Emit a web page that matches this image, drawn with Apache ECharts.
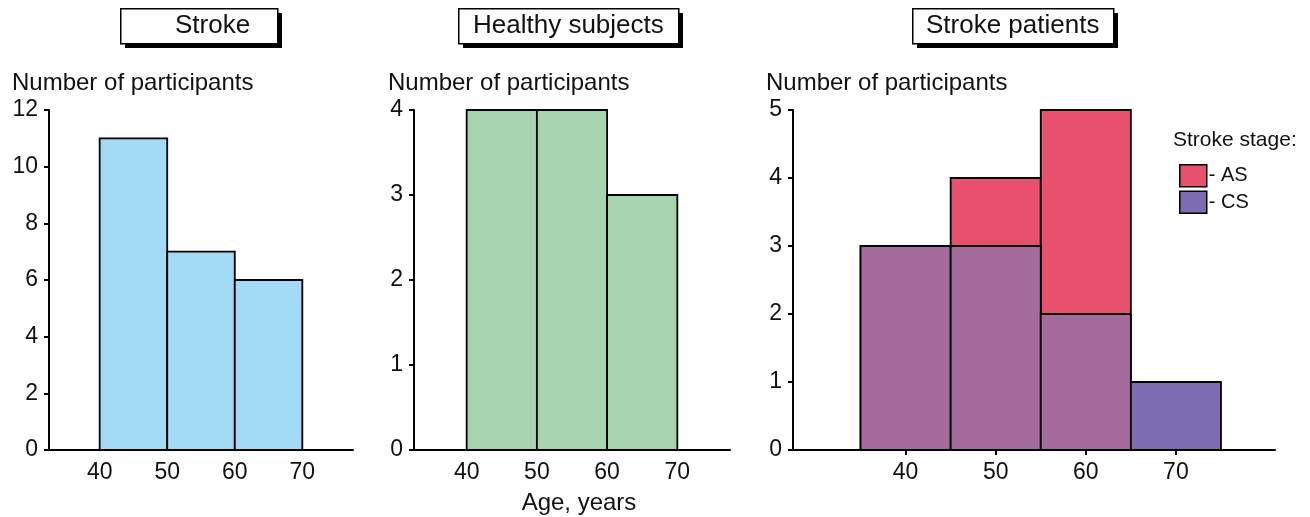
<!doctype html>
<html><head><meta charset="utf-8" />
<style>
  html,body,#app{margin:0;padding:0;width:1310px;height:517px;background:#ffffff}
</style>
<script src="https://cdn.jsdelivr.net/npm/echarts@6.0.0/dist/echarts.min.js"></script>
</head><body><div id="app"></div>
<script>
// histogram data: bin start ages, bin width, counts
const binWidth = 10;
const strokeStarts = [40, 50, 60];
const strokeCounts = [11, 7, 6];
const healthyStarts = [40, 50, 60];
const healthyCounts = [4, 4, 3];
const patientStarts = [35, 45, 55, 65];
const asCounts = [3, 4, 5, 0];
const csCounts = [3, 3, 2, 1];
const ageTicks = [40, 50, 60, 70];
const panelTitles = ['Stroke', 'Healthy subjects', 'Stroke patients'];

(function(){
  const FONT = '"Liberation Sans", Arial, Helvetica, sans-serif';
  const INK = '#111111';
  const C = { blue:'#a3daf6', green:'#a8d5b0', red:'#e8516e', mix:'#a46b9c', cs:'#7d6db0' };

  function toData(starts, counts){ return starts.map((s,i)=>[s, s+binWidth, counts[i]]); }
  function histItem(colorFn){
    return function(params, api){
      const x0 = api.value(0), x1 = api.value(1), y = api.value(2);
      if (!y) return null;
      const p0 = api.coord([x0, y]), p1 = api.coord([x1, 0]);
      return { type:'rect', shape:{ x:p0[0], y:p0[1], width:p1[0]-p0[0], height:p1[1]-p0[1] },
        style:{ fill: colorFn(params.dataIndex), stroke:'#000', lineWidth:1.8 } };
    };
  }

  const grids = [
    { left:49, top:110, width:304, height:340, outerBoundsMode:'none' },
    { left:414, top:110, width:316, height:340, outerBoundsMode:'none' },
    { left:793, top:110, width:482, height:340, outerBoundsMode:'none' }
  ];
  const xr = [[32.5, 77.5], [32.5, 77.5], [27.5, 81]];
  const ymax = [12, 4, 5], ystep = [2, 1, 1];

  const axisLine = { lineStyle:{ color:'#000', width:2 } };
  const xAxis = grids.map((g,i)=>({
    type:'value', gridIndex:i, min:xr[i][0], max:xr[i][1],
    axisLine: Object.assign({ onZero:false }, axisLine),
    axisTick:{ show: i===2, customValues: ageTicks, length:5, lineStyle:{ color:'#000', width:2 } },
    axisLabel:{ customValues: ageTicks, color:INK, fontSize:23, fontFamily:FONT, margin:11 },
    splitLine:{ show:false },
    name: i===1 ? 'Age, years' : '', nameLocation:'middle', nameGap:41,
    nameTextStyle:{ color:INK, fontSize:24, fontFamily:FONT, padding:[0,0,0,14] }
  }));
  const yAxis = grids.map((g,i)=>({
    type:'value', gridIndex:i, min:0, max:ymax[i], interval:ystep[i],
    axisLine: Object.assign({ show:true }, axisLine),
    axisTick:{ show:true, length:5, lineStyle:{ color:'#000', width:2 } },
    axisLabel:{ color:INK, fontSize:23, fontFamily:FONT, margin:11 },
    splitLine:{ show:false }
  }));

  // title boxes with drop shadow, y-axis headings, legend heading
  const boxes = [ { x:120, w:157, tx:175 }, { x:458, w:220, tx:473 }, { x:912, w:201, tx:926 } ];
  const graphic = [];
  boxes.forEach((b,i)=>{
    graphic.push({ type:'rect', left:b.x+5, top:13, shape:{ width:b.w, height:35 }, style:{ fill:'#000' }, silent:true });
    graphic.push({ type:'rect', left:b.x, top:8, shape:{ width:b.w, height:35 }, style:{ fill:'#fff', stroke:'#000', lineWidth:1.5 }, silent:true });
    graphic.push({ type:'text', x:b.tx, y:26, style:{ text:panelTitles[i], fill:INK, font:'26px '+FONT, verticalAlign:'middle' } });
  });
  [12, 388, 766].forEach(x=>{
    graphic.push({ type:'text', x:x, y:83, style:{ text:'Number of participants', fill:INK, font:'24px '+FONT, verticalAlign:'middle' } });
  });
  graphic.push({ type:'text', x:1173, y:140, style:{ text:'Stroke stage:', fill:INK, font:'21px '+FONT, verticalAlign:'middle' } });

  const option = {
    backgroundColor:'#ffffff',
    animation:false,
    grid: grids,
    xAxis, yAxis,
    graphic,
    legend:{ orient:'vertical', left:1174, top:159, itemWidth:27, itemHeight:22, itemGap:3,
      data:[{ name:'AS', icon:'rect' }, { name:'CS', icon:'rect' }],
      formatter: n => '- ' + n,
      itemStyle:{ borderColor:'#000', borderWidth:1.5 },
      textStyle:{ color:INK, fontSize:20, fontFamily:FONT, padding:[6,0,0,-3] } },
    series:[
      { type:'custom', xAxisIndex:0, yAxisIndex:0, data:toData(strokeStarts, strokeCounts), renderItem:histItem(()=>C.blue), encode:{ x:[0,1], y:2 } },
      { type:'custom', xAxisIndex:1, yAxisIndex:1, data:toData(healthyStarts, healthyCounts), renderItem:histItem(()=>C.green), encode:{ x:[0,1], y:2 } },
      { name:'AS', type:'custom', xAxisIndex:2, yAxisIndex:2, data:toData(patientStarts, asCounts), itemStyle:{ color:C.red },
        renderItem:histItem(()=>C.red), encode:{ x:[0,1], y:2 } },
      { name:'CS', type:'custom', xAxisIndex:2, yAxisIndex:2, data:toData(patientStarts, csCounts), itemStyle:{ color:C.cs },
        renderItem:histItem(i=> asCounts[i] > 0 ? C.mix : C.cs), encode:{ x:[0,1], y:2 } }
    ]
  };
  echarts.init(document.getElementById('app'), null, { renderer:'canvas' }).setOption(option);
})();
</script></body></html>
